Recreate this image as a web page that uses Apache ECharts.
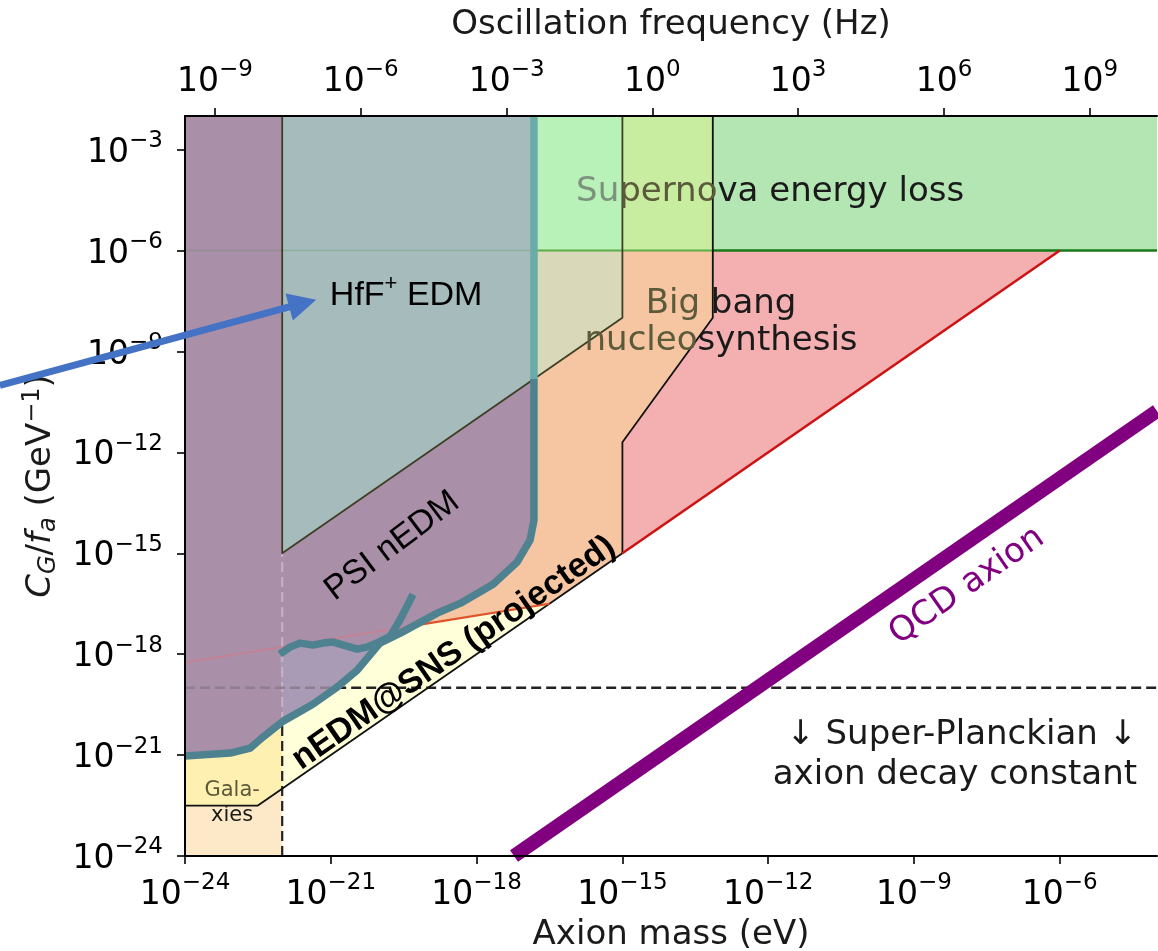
<!DOCTYPE html>
<html>
<head>
<meta charset="utf-8">
<title>Axion-gluon coupling limits</title>
<script src="https://cdn.jsdelivr.net/npm/echarts@6.0.0/dist/echarts.min.js"></script>
<style>
html, body { margin: 0; padding: 0; background: #fff; }
#main { width: 1158px; height: 951px; }
</style>
</head>
<body>
<div id="main"></div>
<script>
// all values are log10: x = axion mass (eV), y = C_G/f_a (GeV^-1)
var massRange = [-24, -4];
var couplingRange = [-24, -2];
var massTicks = [-24, -21, -18, -15, -12, -9, -6];
var couplingTicks = [-24, -21, -18, -15, -12, -9, -6, -3];
var freqTicks = [-9, -6, -3, 0, 3, 6, 9];
var hzPerEv = 14.383; // log10(2.418e14 Hz / eV)

// PSI nEDM exclusion edge (thick teal)
var psiLimit = [[-24, -21.03], [-23.07, -20.94], [-22.66, -20.79], [-22.4, -20.47], [-21.98, -19.99],
  [-21.37, -19.49], [-20.87, -18.98], [-20.46, -18.48], [-19.99, -17.67], [-19.58, -17.38],
  [-18.81, -16.78], [-18.34, -16.49], [-17.66, -15.92], [-17.17, -15.27], [-16.9, -14.61],
  [-16.82, -14.02], [-16.82, -2]];
// PSI oscillation scan (wiggly teal)
var psiScan = [[-22.05, -18.0], [-21.84, -17.79], [-21.63, -17.67], [-21.37, -17.73], [-21.16, -17.67],
  [-20.95, -17.64], [-20.67, -17.76], [-20.46, -17.85], [-20.26, -17.79], [-20.05, -17.67],
  [-19.78, -17.47], [-19.58, -16.99], [-19.37, -16.4], [-19.31, -16.22]];
// nEDM@SNS projected reach (upper edge of the yellow band)
var snsReach = [[-24, -21.03], [-23.07, -20.94], [-22.66, -20.79], [-22.4, -20.47], [-21.98, -19.99],
  [-21.37, -19.49], [-20.87, -18.98], [-20.46, -18.48], [-19.99, -17.67], [-19.58, -17.38],
  [-19.29, -17.15], [-16.5, -16.5]];
var snsLine = [[-24, -18.25], [-16.5, -16.5]];
var snsFloor = [[-24, -22.5], [-22.5, -22.5], [-15, -15]];
var hffEdge = [[-22, -2], [-22, -15], [-15, -8], [-15, -2]];
var bbnEdge = [[-13.14, -2], [-13.14, -8], [-15, -11.7], [-15, -15]];
var bbnFloor = [[-15, -15], [-6, -6]];
var supernovaFloor = -6;
var galaxyEdge = -22;
var planckLine = -19;
var qcdLine = [[-17.23, -24], [-4, -10.77]];
var hffArrow = [[-27.81, -10.01], [-21.3, -7.46]];

(function () {
  var chart = echarts.init(document.getElementById('main'));

  function yAt(curve, x) {
    for (var i = 1; i < curve.length; i++) {
      var a = curve[i - 1], b = curve[i];
      if (a[0] !== b[0] && (x - a[0]) * (x - b[0]) <= 0) {
        return a[1] + (b[1] - a[1]) * (x - a[0]) / (b[0] - a[0]);
      }
    }
    return null;
  }
  function xAt(curve, y) {
    for (var i = 1; i < curve.length; i++) {
      var a = curve[i - 1], b = curve[i];
      if (a[1] !== b[1] && (y - a[1]) * (y - b[1]) <= 0) {
        return a[0] + (b[0] - a[0]) * (y - a[1]) / (b[1] - a[1]);
      }
    }
    return null;
  }

  var left = massRange[0], right = massRange[1], bot = couplingRange[0], top = couplingRange[1];
  var sf = supernovaFloor;
  var bbnX = bbnEdge[0][0];
  var hffX = hffEdge[3][0];
  var psiX = psiLimit[psiLimit.length - 1][0];
  var hffCut = yAt(hffEdge.slice(1, 3), psiX);
  var galaxyTop = yAt(snsReach, galaxyEdge);
  var snsCross = snsReach[snsReach.length - 2];
  var planckCross = xAt(psiLimit, planckLine);

  var series = [];
  function addPolygon(pts, fill) {
    series.push({
      type: 'custom', silent: true, data: [pts[0]],
      renderItem: function (params, api) {
        return {
          type: 'polygon',
          shape: { points: pts.map(function (p) { return api.coord(p); }) },
          style: { fill: fill }
        };
      }
    });
  }
  function addLine(pts, color, width, dash) {
    series.push({
      type: 'line', data: pts, symbol: 'none', silent: true,
      lineStyle: { color: color, width: width, type: dash || 'solid', cap: 'butt', join: 'round' }
    });
  }

  // filled regions, back to front
  addPolygon([[left, bot], [galaxyEdge, bot], [galaxyEdge, top], [left, top]], '#fde9c8');
  addPolygon([[left, top]].concat(bbnEdge, snsFloor.slice(0, 2).reverse()), '#f6c6a2');
  addPolygon([[bbnX, sf]].concat(bbnEdge.slice(1), [bbnFloor[1]]), '#f4afb0');
  addPolygon([[bbnX, sf], [right, sf], [right, top], [bbnX, top]], '#b3e6b3');
  addPolygon([[hffX, sf], [bbnX, sf], [bbnX, top], [hffX, top]], '#c8eca0');
  addPolygon([[psiX, sf], [hffX, sf], [hffX, top], [psiX, top]], '#b8f2b8');
  addPolygon(snsFloor.slice(0, 2).concat(snsReach.slice().reverse()), '#ffffd9');
  addPolygon(snsFloor.slice(0, 2).concat([[galaxyEdge, yAt(snsFloor, galaxyEdge)], [galaxyEdge, galaxyTop]],
    snsReach.filter(function (p) { return p[0] < galaxyEdge; }).reverse()), '#fdf0b0');

  // dashed guides outside the purple region
  addLine([[galaxyEdge, bot], [galaxyEdge, galaxyTop]], '#222', 2.2, [10, 5]);
  addLine([[planckCross, planckLine], [right, planckLine]], '#222', 2.4, [10, 5]);

  addPolygon([[left, top]].concat(psiLimit.slice().reverse()), '#aa8fa8');
  addPolygon(psiScan.slice(0, 10).concat(psiLimit.filter(function (p) {
    return p[0] > -22.05 && p[0] < psiScan[9][0];
  }).reverse()), '#a99bb5');

  // dashed guides seen through the purple region
  addLine([[galaxyEdge, galaxyTop], [galaxyEdge, hffEdge[1][1]]], '#c7b0c5', 2.2, [10, 5]);
  addLine([[left, planckLine], [planckCross, planckLine]], '#8d7f8f', 2.4, [10, 5]);
  addLine([snsLine[0], snsCross], 'rgba(214,120,132,0.6)', 1.8);

  addPolygon([hffEdge[0], [psiX, top], [psiX, hffCut], hffEdge[1]], '#a6bbbb');
  addPolygon([[psiX, hffCut], hffEdge[2], [hffX, sf], [psiX, sf]], '#d9d8b8');

  // outlines
  addLine([[left, sf], [psiX, sf]], 'rgba(90,150,90,0.3)', 1.5);
  addLine([[psiX, sf], [bbnX, sf]], '#5cae48', 2);
  addLine([[bbnX, sf], [right, sf]], '#177a17', 2.5);
  addLine(hffEdge, '#3f3f26', 1.8);
  addLine(bbnEdge, '#111', 1.8);
  addLine(snsFloor, '#111', 1.8);
  addLine(bbnFloor, '#cc1414', 2.6);
  addLine([snsCross, snsLine[1]], '#e0522a', 2.2);

  // teal limit curves
  addLine(psiLimit.slice(0, -1).concat([[psiX, hffCut]]), '#4e8290', 7.5);
  addLine([[psiX, hffCut], [psiX, top]], '#69aba9', 7.5);
  addLine(psiScan, '#4e8290', 7.5);

  // QCD axion band
  addLine(qcdLine, '#800080', 14);

  series.forEach(function (s, i) { s.z = i + 1; });

  // annotations
  var dj = 'DejaVu Sans', ls = 'Liberation Sans';
  var notes = [
    { at: [-11.96, -4.16], font: dj, size: 34, text: '{g|Su}{o|perno}{d|va energy loss}',
      colors: { g: '#7d927d', o: '#5b5a3b', d: '#1a1a1a' } },
    { at: [-12.97, -7.49], font: dj, size: 34, text: '{o|Big }{d|bang}', colors: { o: '#5b5a3b', d: '#1a1a1a' } },
    { at: [-12.97, -8.59], font: dj, size: 34, text: '{o|nucleo}{d|synthesis}', colors: { o: '#5b5a3b', d: '#1a1a1a' } },
    { at: [-21.02, -7.25], font: ls, size: 34, align: 'left', sup: true, text: '{d|HfF}{s|+}{d| EDM}', colors: { d: '#000' } },
    { at: [-19.78, -14.7], font: ls, size: 34, rot: 37, text: '{d|PSI nEDM}', colors: { d: '#000' } },
    { at: [-18.51, -17.88], font: ls, size: 34, weight: 'bold', rot: 34.7, text: '{d|nEDM@SNS (projected)}', colors: { d: '#000' } },
    { at: [-7.95, -15.89], font: dj, size: 34, rot: 35, text: '{d|QCD axion}', colors: { d: '#800080' } },
    { at: [-4.41, -20.29], font: dj, size: 34, align: 'right', text: '{d|\u2193 Super-Planckian \u2193}', colors: { d: '#1a1a1a' } },
    { at: [-4.41, -21.5], font: dj, size: 34, align: 'right', text: '{d|axion decay constant}', colors: { d: '#1a1a1a' } },
    { at: [-23.03, -21.98], font: dj, size: 21, text: '{d|Gala-}', colors: { d: '#5b5a3b' } },
    { at: [-23.03, -22.75], font: dj, size: 21, text: '{d|xies}', colors: { d: '#1a1a1a' } }
  ];
  function noteRich(n) {
    var rich = {};
    var lh = n.sup ? 40 : Math.round(n.size * 1.2);
    Object.keys(n.colors).forEach(function (k) {
      rich[k] = { fontFamily: n.font, fontSize: n.size, fontWeight: n.weight || 'normal',
        fill: n.colors[k], color: n.colors[k], lineHeight: lh, verticalAlign: 'bottom' };
    });
    rich.s = { fontFamily: n.font, fontSize: 22, fill: '#000', color: '#000', lineHeight: 18, verticalAlign: 'top' };
    return rich;
  }
  series.push({
    type: 'custom', silent: true, clip: false, z: 45,
    data: notes.map(function (n) { return n.at; }),
    renderItem: function (params, api) {
      var n = notes[params.dataIndex];
      var p = api.coord(n.at);
      return {
        type: 'text', x: p[0], y: p[1], rotation: (n.rot || 0) * Math.PI / 180,
        style: { text: n.text, fontFamily: n.font, fontSize: n.size, align: n.align || 'center',
          verticalAlign: 'middle', rich: noteRich(n) }
      };
    }
  });

  // arrow pointing at the HfF+ region
  series.push({
    type: 'custom', silent: true, clip: false, z: 60, data: [hffArrow[1]],
    renderItem: function (params, api) {
      var a = api.coord(hffArrow[0]), b = api.coord(hffArrow[1]);
      var dx = b[0] - a[0], dy = b[1] - a[1], L = Math.sqrt(dx * dx + dy * dy);
      var ux = dx / L, uy = dy / L, hl = 28, hw = 14;
      var base = [b[0] - ux * hl, b[1] - uy * hl];
      return {
        type: 'group', children: [
          { type: 'line', shape: { x1: a[0], y1: a[1], x2: base[0] + ux * 2, y2: base[1] + uy * 2 },
            style: { stroke: '#4472c4', lineWidth: 7 } },
          { type: 'polygon', shape: { points: [b, [base[0] - uy * hw, base[1] + ux * hw], [base[0] + uy * hw, base[1] - ux * hw]] },
            style: { fill: '#4472c4' } }
        ]
      };
    }
  });

  function powLabel(e) {
    e = Math.round(e);
    return '{b|10}{s|' + (e < 0 ? '\u2212' + (-e) : String(e)) + '}';
  }
  var tickRich = {
    b: { fontFamily: dj, fontSize: 33, color: '#000', lineHeight: 40, verticalAlign: 'bottom' },
    s: { fontFamily: dj, fontSize: 23, color: '#000', lineHeight: 16, verticalAlign: 'top' }
  };
  var nameStyle = { fontFamily: dj, fontSize: 34, color: '#1a1a1a' };
  var tickLine = { color: '#000', width: 1.6 };
  var freqPos = freqTicks.map(function (f) { return f - hzPerEv; });

  var option = {
    animation: false,
    backgroundColor: '#fff',
    grid: { left: 185, right: 1, top: 116, bottom: 95, containLabel: false, outerBoundsMode: 'none' },
    xAxis: [{
      type: 'value', min: left, max: right, position: 'bottom', z: 50,
      name: 'Axion mass (eV)', nameLocation: 'middle', nameGap: 62, nameTextStyle: nameStyle,
      axisLine: { show: true, onZero: false, lineStyle: { color: '#000', width: 2 } },
      axisTick: { show: true, length: 8, customValues: massTicks, lineStyle: tickLine },
      axisLabel: { customValues: massTicks, margin: 16, formatter: powLabel, rich: tickRich },
      splitLine: { show: false }
    }, {
      type: 'value', min: left, max: right, position: 'top', z: 50,
      name: 'Oscillation frequency (Hz)', nameLocation: 'middle', nameGap: 74, nameTextStyle: nameStyle,
      axisLine: { show: true, onZero: false, lineStyle: { color: '#000', width: 2 } },
      axisTick: { show: true, length: 8, customValues: freqPos, lineStyle: tickLine },
      axisLabel: { customValues: freqPos, margin: 17,
        formatter: function (v) { return powLabel(v + hzPerEv); }, rich: tickRich },
      splitLine: { show: false }
    }],
    yAxis: [{
      type: 'value', min: bot, max: top, position: 'left', z: 50,
      name: '{i|C}{sb|G}{n|/}{i|f}{sb|a}{n| (GeV}{sp|\u22121}{n|)}',
      nameLocation: 'middle', nameGap: 124,
      nameTextStyle: { rich: {
        i: { fontFamily: dj, fontStyle: 'italic', fontSize: 34, color: '#1a1a1a', lineHeight: 40, verticalAlign: 'middle' },
        n: { fontFamily: dj, fontSize: 34, color: '#1a1a1a', lineHeight: 40, verticalAlign: 'middle' },
        sb: { fontFamily: dj, fontStyle: 'italic', fontSize: 24, color: '#1a1a1a', lineHeight: 24, verticalAlign: 'bottom' },
        sp: { fontFamily: dj, fontSize: 24, color: '#1a1a1a', lineHeight: 18, verticalAlign: 'top' }
      } },
      axisLine: { show: true, onZero: false, lineStyle: { color: '#000', width: 2 } },
      axisTick: { show: true, length: 8, customValues: couplingTicks, lineStyle: tickLine },
      axisLabel: { customValues: couplingTicks, margin: 22, formatter: powLabel, rich: tickRich },
      splitLine: { show: false }
    }],
    series: series
  };

  chart.setOption(option);
  window.addEventListener('resize', function () { chart.resize(); });
})();
</script>
</body>
</html>
